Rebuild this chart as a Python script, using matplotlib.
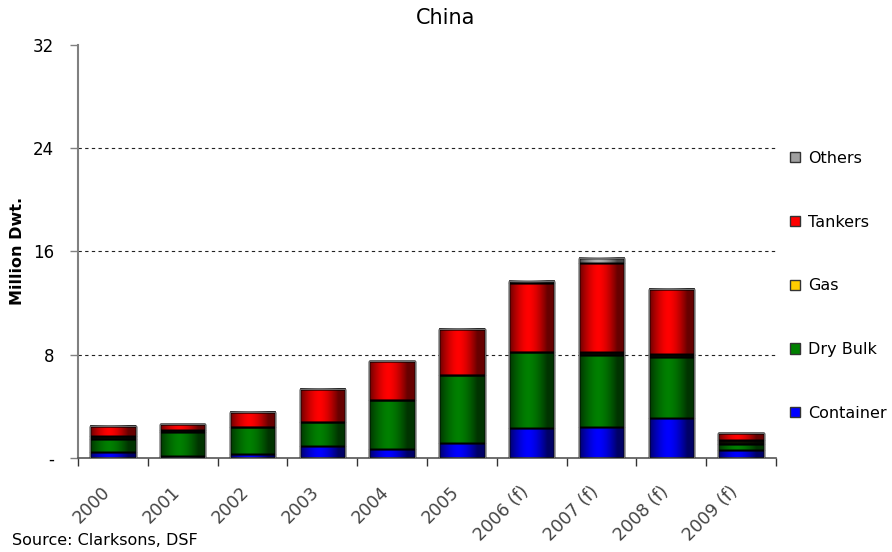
import numpy as np
import matplotlib.pyplot as plt
from matplotlib.patches import Patch
from matplotlib.transforms import ScaledTranslation

plt.rcParams['font.family'] = ['DejaVu Sans']

# deliveries by year, million dwt
years = ['2000', '2001', '2002', '2003', '2004', '2005',
         '2006 (f)', '2007 (f)', '2008 (f)', '2009 (f)']
container = [0.45, 0.15, 0.30, 0.90, 0.70, 1.20, 2.35, 2.40, 3.10, 0.65]
dry_bulk = [1.05, 1.90, 2.10, 1.90, 3.80, 5.20, 5.85, 5.60, 4.75, 0.45]
gas = [0.20, 0.15, 0.00, 0.00, 0.00, 0.00, 0.05, 0.20, 0.20, 0.30]
tankers = [0.80, 0.40, 1.20, 2.55, 3.00, 3.60, 5.30, 6.90, 5.05, 0.50]
others = [0.00, 0.00, 0.00, 0.00, 0.00, 0.00, 0.20, 0.40, 0.00, 0.00]

# name, values, legend colour, fill used in the bars
series = [('Container', container, '#0000ff', '#0000ff'),
          ('Dry Bulk', dry_bulk, '#008000', '#008000'),
          ('Gas', gas, '#ffcc00', '#111100'),
          ('Tankers', tankers, '#ff0000', '#ff0000'),
          ('Others', others, '#a0a0a0', '#b0b0b0')]

yticks = [0, 8, 16, 24, 32]
ytick_labels = ['-', '8', '16', '24', '32']

fig = plt.figure(figsize=(8.92, 5.52), dpi=100)
ax = fig.add_axes([0.0874, 0.1703, 0.7825, 0.7482])

x = np.arange(len(years))
w = 0.65
bottom = np.zeros(len(years))
for name, vals, lcol, col in series:
    vals = np.array(vals)
    ax.bar(x, vals, w, bottom=bottom, color=col, edgecolor='black',
           linewidth=1.0, zorder=2)
    bottom += vals

# horizontal shading across each bar (dark sides, bright centre)
t = np.linspace(0, 1, 80)
alpha = 0.6 * np.clip(np.abs(t - 0.42) / 0.42, 0, 1) ** 1.6
shade = np.zeros((1, len(t), 4))
shade[0, :, 3] = alpha
for xi, tot in zip(x, bottom):
    ax.imshow(shade, extent=(xi - w / 2, xi + w / 2, 0, tot),
              aspect='auto', zorder=3, interpolation='bilinear')

# redraw the segment outlines over the shading
bottom = np.zeros(len(years))
for name, vals, lcol, col in series:
    vals = np.array(vals)
    ax.bar(x, vals, w, bottom=bottom, color='none', edgecolor='black',
           linewidth=1.0, zorder=4)
    bottom += vals
ax.bar(x, bottom, w, color='none', edgecolor='#808080', linewidth=0.6,
       zorder=5)

for yv in yticks[1:-1]:
    ax.axhline(yv, color='#222222', linestyle=(0, (3, 3)), linewidth=0.8,
               zorder=1)

ax.set_xlim(-0.5, len(years) - 0.5)
ax.set_ylim(0, 32)
ax.set_yticks(yticks)
ax.set_yticklabels(ytick_labels, fontsize=12)
ax.tick_params(axis='y', length=6, color='#808080', width=1, pad=11)

ax.set_xticks(x)
ax.set_xticklabels(years, rotation=45, ha='right', rotation_mode='anchor',
                   fontsize=12.5, color='#444444')
ax.tick_params(axis='x', which='major', length=0, pad=18)
# nudge the slanted year labels a little to the left
offset = ScaledTranslation(-0.12, 0, fig.dpi_scale_trans)
for lbl in ax.get_xticklabels():
    lbl.set_transform(lbl.get_transform() + offset)
ax.set_xticks(np.arange(-0.5, len(years)), minor=True)
ax.tick_params(axis='x', which='minor', length=6, color='#333333', width=1)

for s in ('top', 'right'):
    ax.spines[s].set_visible(False)
ax.spines['left'].set_color('#808080')
ax.spines['left'].set_linewidth(1.5)
ax.spines['bottom'].set_color('#555555')
ax.spines['bottom'].set_linewidth(1.2)

fig.text(18 / 892, 0.545, 'Million Dwt.', rotation=90, ha='center',
         va='center', fontsize=11.5, fontweight='bold')
fig.text(0.5, 1 - 18 / 552, 'China', ha='center', va='center', fontsize=15)

handles = [Patch(facecolor=lcol, edgecolor='#333333', label=name)
           for name, vals, lcol, col in series[::-1]]
fig.legend(handles=handles, loc='upper left', bbox_to_anchor=(0.879, 0.738),
           frameon=False, fontsize=11.5, labelspacing=3.05,
           handlelength=0.6, handleheight=0.6, handletextpad=0.5,
           borderaxespad=0)

fig.text(0.014, 0.012, 'Source: Clarksons, DSF', fontsize=11.5)

fig.savefig('out.png', dpi=100)
